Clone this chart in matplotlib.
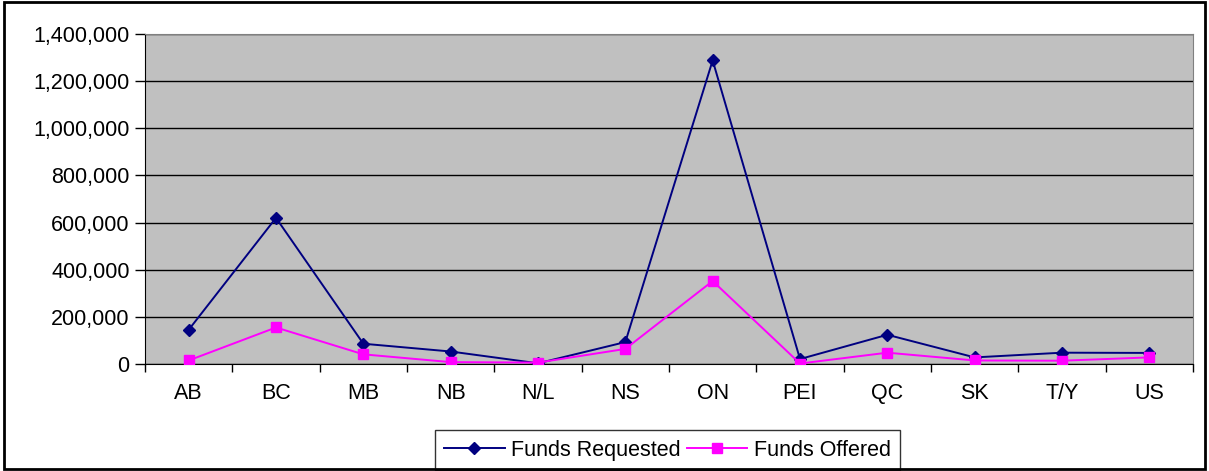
import matplotlib.pyplot as plt
from matplotlib.patches import Rectangle
from matplotlib.ticker import FuncFormatter, FixedLocator

plt.rcParams['font.family'] = ['Liberation Sans', 'DejaVu Sans']

regions = ["AB", "BC", "MB", "NB", "N/L", "NS", "ON", "PEI", "QC", "SK", "T/Y", "US"]
requested = [145000, 620000, 86000, 53000, 3000, 93000, 1288000, 21000, 124000, 28000, 48000, 47000]
offered = [15000, 155000, 41000, 8000, 6000, 64000, 352000, 2000, 48000, 15000, 14000, 28000]

fig = plt.figure(figsize=(12.09, 4.71), dpi=100)
fig.patches.append(Rectangle((0.003, 0.004), 0.994, 0.992, transform=fig.transFigure,
                             fill=False, edgecolor="black", linewidth=2))

ax = fig.add_axes([145 / 1209, 107 / 471, 1048 / 1209, 330 / 471])
ax.set_facecolor("#c0c0c0")

x = range(len(regions))
ax.plot(x, requested, color="#000080", marker="D", markersize=6.5, linewidth=1.4,
        label="Funds Requested", zorder=3)
ax.plot(x, offered, color="#ff00ff", marker="s", markersize=7.5, linewidth=1.4,
        label="Funds Offered", zorder=3)

ax.set_xlim(-0.5, len(regions) - 0.5)
ax.set_ylim(0, 1400000)
ax.set_yticks(range(0, 1400001, 200000))
ax.yaxis.set_major_formatter(FuncFormatter(lambda v, p: f"{int(v):,}"))
ax.grid(axis="y", color="black", linewidth=1)
ax.set_axisbelow(True)

ax.set_xticks(list(x))
ax.set_xticklabels(regions)
ax.xaxis.set_minor_locator(FixedLocator([i - 0.5 for i in range(len(regions) + 1)]))
ax.tick_params(axis="x", which="major", length=0, pad=14, labelsize=15.5)
ax.tick_params(axis="x", which="minor", length=6, width=1, direction="out")
ax.tick_params(axis="y", length=7, width=1, direction="out", labelsize=15.5, pad=4)

for s in ["top", "right"]:
    ax.spines[s].set_color("#808080")
for s in ["left", "bottom"]:
    ax.spines[s].set_color("black")

leg = ax.legend(loc="upper center", bbox_to_anchor=(0.4986, -0.2), borderaxespad=0,
                ncol=2, frameon=True, fancybox=False, edgecolor="black", fontsize=15.5,
                handlelength=2.8, borderpad=0.45, columnspacing=0.3, handletextpad=0.3)
leg.get_frame().set_linewidth(1)

fig.savefig("out.png", dpi=100)
